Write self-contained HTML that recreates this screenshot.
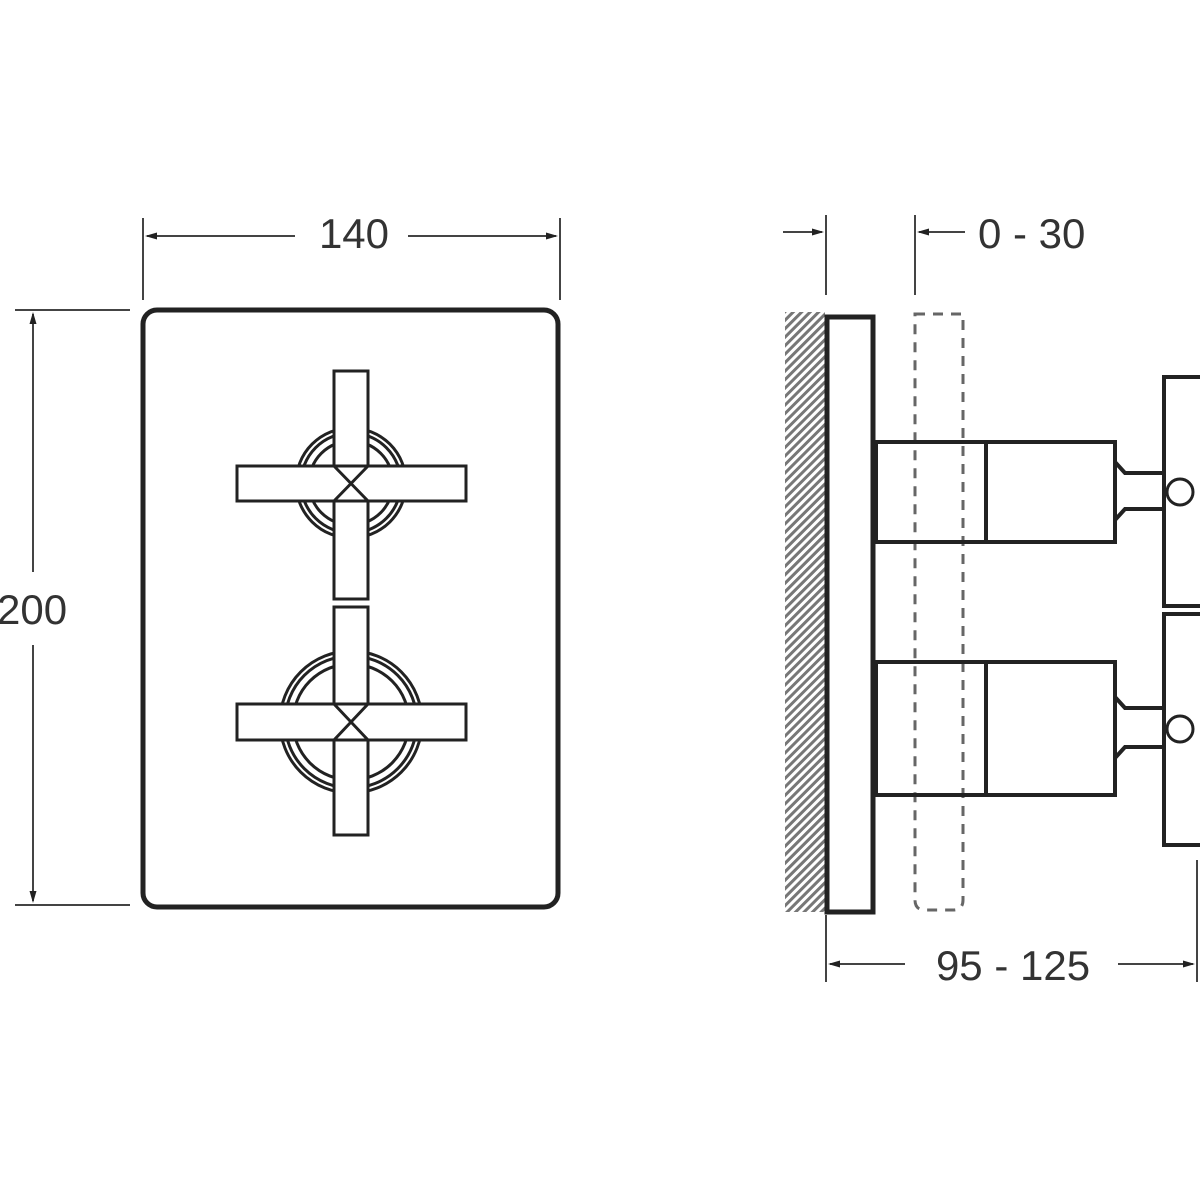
<!DOCTYPE html>
<html><head><meta charset="utf-8"><style>html,body{margin:0;padding:0;background:#fff}svg{display:block}</style></head>
<body>
<svg width="1200" height="1200" viewBox="0 0 1200 1200" xmlns="http://www.w3.org/2000/svg">
<defs>
<pattern id="h" width="6" height="6" patternUnits="userSpaceOnUse" patternTransform="rotate(45)">
<rect width="6" height="6" fill="#fff"/><rect width="3" height="6" fill="#777"/></pattern>
</defs>
<g font-family="Liberation Sans, sans-serif" font-size="42" fill="#333">
<text x="354" y="248" text-anchor="middle">140</text>
<text x="-3" y="624">200</text>
<text x="978" y="248">0 - 30</text>
<text x="1013" y="980" text-anchor="middle">95 - 125</text>
</g>
<g stroke="#444" stroke-width="2" fill="none">
<line x1="143" y1="218" x2="143" y2="300"/><line x1="560" y1="218" x2="560" y2="300"/>
<line x1="147" y1="236" x2="295" y2="236"/>
<line x1="408" y1="236" x2="556" y2="236"/>
<line x1="15" y1="310" x2="130" y2="310"/><line x1="15" y1="905" x2="130" y2="905"/>
<line x1="33" y1="314" x2="33" y2="572"/>
<line x1="33" y1="645" x2="33" y2="901"/>
<line x1="826" y1="215" x2="826" y2="295"/><line x1="915" y1="215" x2="915" y2="295"/>
<line x1="783" y1="232" x2="822" y2="232"/>
<line x1="919" y1="232" x2="965" y2="232"/>
<line x1="826" y1="915" x2="826" y2="982"/><line x1="1197" y1="860" x2="1197" y2="982"/>
<line x1="830" y1="964" x2="905" y2="964"/>
<line x1="1118" y1="964" x2="1193" y2="964"/>
</g>
<g fill="#222">
<path d="M145,236 l12,-3.5 v7 Z"/>
<path d="M558,236 l-12,-3.5 v7 Z"/>
<path d="M33,312 l-3.5,12 h7 Z"/>
<path d="M33,903 l-3.5,-12 h7 Z"/>
<path d="M824,232 l-12,-3.5 v7 Z"/>
<path d="M917,232 l12,-3.5 v7 Z"/>
<path d="M828,964 l12,-3.5 v7 Z"/>
<path d="M1195,964 l-12,-3.5 v7 Z"/>
</g>
<rect x="143" y="310" width="415" height="597" rx="14" fill="none" stroke="#222" stroke-width="5"/>
<g stroke="#222" stroke-width="3" fill="#fff">
<circle cx="351" cy="483" r="55" fill="none"/><circle cx="351" cy="483" r="50" fill="none"/><circle cx="351" cy="483" r="42" fill="none"/>
<circle cx="351" cy="722" r="71" fill="none"/><circle cx="351" cy="722" r="66" fill="none"/><circle cx="351" cy="722" r="58" fill="none"/>
<rect x="334" y="371" width="34" height="228"/>
<rect x="237" y="466" width="229" height="35"/>
<rect x="334" y="607" width="34" height="228"/>
<rect x="237" y="704" width="229" height="36"/>
<path d="M334,466 L368,501 M368,466 L334,501 M334,704 L368,740 M368,704 L334,740" fill="none"/>
</g>
<rect x="785" y="312" width="40" height="600" fill="url(#h)"/>
<rect x="827" y="317" width="46" height="595" fill="#fff" stroke="#222" stroke-width="5"/>
<path d="M915,314 L963,314 L963,900 Q963,910 953,910 L925,910 Q915,910 915,900 Z" fill="none" stroke="#666" stroke-width="3" stroke-dasharray="10,8"/>
<g stroke="#222" stroke-width="4" fill="none">
<rect x="876" y="442" width="239" height="100"/>
<line x1="986" y1="442" x2="986" y2="542"/>
<path d="M1115,462 L1125,473 L1165,473 M1115,520 L1125,509 L1165,509"/>
<rect x="1164" y="377" width="40" height="229"/>
<circle cx="1180" cy="492" r="13" fill="#fff" stroke-width="3"/>
<rect x="876" y="662" width="239" height="133"/>
<line x1="986" y1="662" x2="986" y2="795"/>
<path d="M1115,697 L1125,708 L1165,708 M1115,758 L1125,747 L1165,747"/>
<rect x="1164" y="614" width="40" height="231"/>
<circle cx="1180" cy="729" r="13" fill="#fff" stroke-width="3"/>
</g>
</svg>
</body></html>
